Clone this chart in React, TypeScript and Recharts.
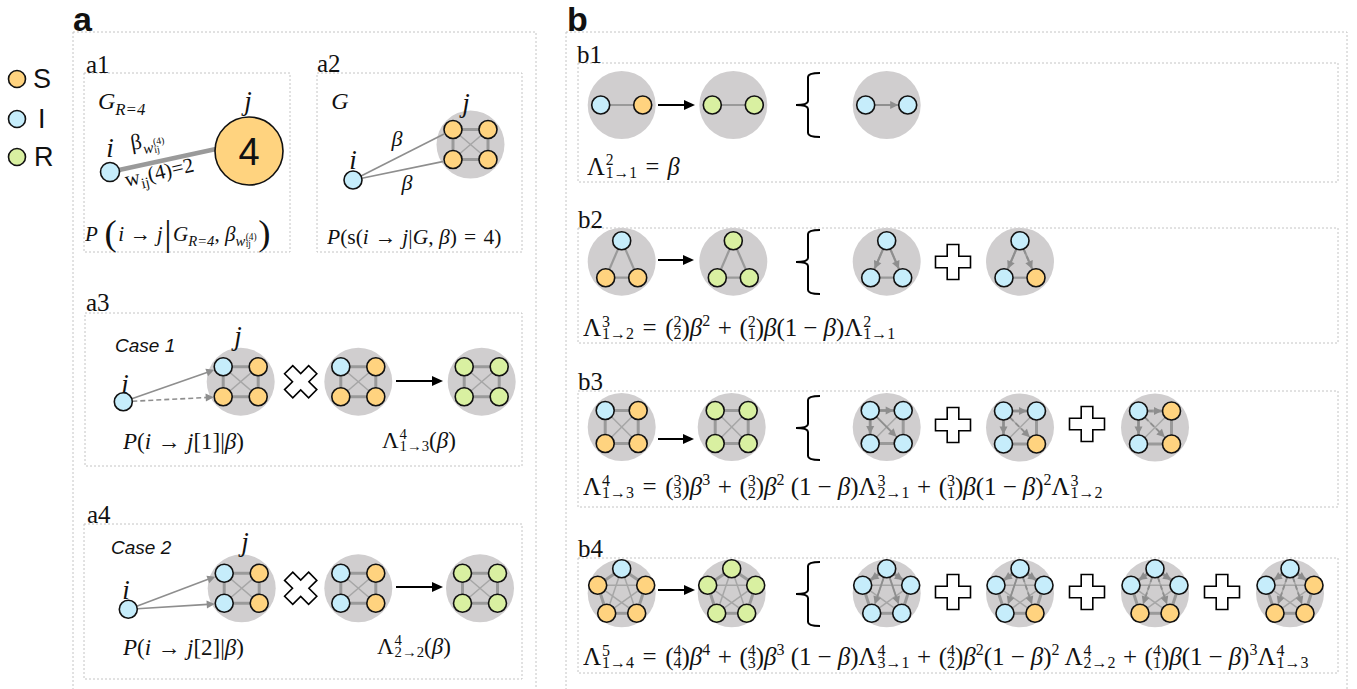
import React from 'react';
import { ScatterChart, Scatter, XAxis, YAxis } from 'recharts';

const W = 1357;
const H = 689;

const SERIF = '"Liberation Serif", "DejaVu Serif", serif';
const SANS = '"Liberation Sans", Arial, sans-serif';

const STATE_FILL: Record<string, string> = { S: '#ffd37f', I: '#c6edfb', R: '#d9f0a1' };
const DISC = '#d0cecf';
const NODE_R = 9;
const DISC_R = 34;

// ---------- data ----------
const legendItems = [
  { x: 17, y: 79, state: 'S', r: 8.5 },
  { x: 17, y: 119, state: 'I', r: 8.5 },
  { x: 17, y: 157, state: 'R', r: 8.5 },
];

const outerBoxes = [
  { x: 73, y: 32, x2: 536, y2: 700 },
  { x: 566, y: 32, x2: 1347, y2: 700 },
];

const panelBoxes = [
  { x: 84, y: 73, x2: 290, y2: 252 },
  { x: 317, y: 73, x2: 522, y2: 252 },
  { x: 85, y: 313, x2: 522, y2: 466 },
  { x: 84, y: 524, x2: 522, y2: 679 },
  { x: 578, y: 63, x2: 1338, y2: 182 },
  { x: 578, y: 228, x2: 1338, y2: 343 },
  { x: 578, y: 391, x2: 1338, y2: 507 },
  { x: 578, y: 558, x2: 1338, y2: 673 },
];

type Arrow = [number, number, boolean];
type Group = { id: string; x: number; y: number; kind: string; states: string; arrows?: Arrow[] };

const groups: Group[] = [
  { id: 'a2', x: 470.5, y: 144.5, kind: 'k4a', states: 'SSSS' },
  { id: 'a3g1', x: 240.7, y: 381.7, kind: 'k4a', states: 'ISSS' },
  { id: 'a3g2', x: 358.3, y: 381.7, kind: 'k4a', states: 'ISSS' },
  { id: 'a3g3', x: 481.7, y: 381.7, kind: 'k4a', states: 'RRRR' },
  { id: 'a4g1', x: 241.7, y: 588.3, kind: 'k4a', states: 'ISIS' },
  { id: 'a4g2', x: 358.3, y: 588.3, kind: 'k4a', states: 'ISIS' },
  { id: 'a4g3', x: 480, y: 588.3, kind: 'k4a', states: 'RRRR' },
  { id: 'b1g1', x: 621.7, y: 105, kind: 'pair', states: 'IS' },
  { id: 'b1g2', x: 733.3, y: 105, kind: 'pair', states: 'RR' },
  { id: 'b1g3', x: 886.7, y: 105, kind: 'pair', states: 'II', arrows: [[0, 1, false]] },
  { id: 'b2g1', x: 621.7, y: 261.7, kind: 'tri', states: 'ISS' },
  { id: 'b2g2', x: 733.3, y: 261.7, kind: 'tri', states: 'RRR' },
  { id: 'b2g3', x: 886.7, y: 261.7, kind: 'tri', states: 'III', arrows: [[0, 1, false], [0, 2, false]] },
  { id: 'b2g4', x: 1020, y: 261.7, kind: 'tri', states: 'IIS', arrows: [[0, 1, false], [0, 2, true]] },
  { id: 'b3g1', x: 621.7, y: 427, kind: 'k4b', states: 'ISSS' },
  { id: 'b3g2', x: 731.7, y: 427, kind: 'k4b', states: 'RRRR' },
  { id: 'b3g3', x: 886.7, y: 427, kind: 'k4b', states: 'IIII', arrows: [[0, 1, false], [0, 2, false], [0, 3, false]] },
  { id: 'b3g4', x: 1020, y: 427.5, kind: 'k4b', states: 'IIIS', arrows: [[0, 1, false], [0, 2, false], [0, 3, true]] },
  { id: 'b3g5', x: 1155, y: 427.5, kind: 'k4b', states: 'ISIS', arrows: [[0, 1, true], [0, 2, false], [0, 3, true]] },
  { id: 'b4g1', x: 621.7, y: 593.3, kind: 'pent', states: 'ISSSS' },
  { id: 'b4g2', x: 731.7, y: 593.3, kind: 'pent', states: 'RRRRR' },
  { id: 'b4g3', x: 886.7, y: 593.3, kind: 'pent', states: 'IIIII', arrows: [[0, 1, false], [0, 2, false], [0, 3, false], [0, 4, false]] },
  { id: 'b4g4', x: 1020, y: 593.3, kind: 'pent', states: 'IIIIS', arrows: [[0, 1, false], [0, 2, false], [0, 3, false], [0, 4, true]] },
  { id: 'b4g5', x: 1155, y: 593.3, kind: 'pent', states: 'IIISS', arrows: [[0, 1, false], [0, 2, false], [0, 3, true], [0, 4, true]] },
  { id: 'b4g6', x: 1290, y: 593.3, kind: 'pent', states: 'IISSS', arrows: [[0, 1, false], [0, 2, true], [0, 3, true], [0, 4, true]] },
];

const templates: Record<string, number[][]> = {
  pair: [[-21, 0], [21, 0]],
  tri: [[0, -21], [-16, 16], [16, 16]],
  k4a: [[-17.5, -15], [17.5, -15], [-17.5, 15], [17.5, 15]],
  k4b: [[-16.5, -16.5], [16.5, -16.5], [-16.5, 16.5], [16.5, 16.5]],
  pent: [[0, -24.5], [-24, -8], [24, -8], [-15, 20], [15, 20]],
};
const thickEdges: Record<string, number[][]> = {
  pair: [[0, 1]],
  tri: [[0, 1], [0, 2], [1, 2]],
  k4a: [[0, 1], [1, 3], [3, 2], [2, 0]],
  k4b: [[0, 1], [1, 3], [3, 2], [2, 0]],
  pent: [[0, 2], [2, 4], [4, 3], [3, 1], [1, 0]],
};
const thinEdges: Record<string, number[][]> = {
  pair: [],
  tri: [],
  k4a: [[0, 3], [1, 2]],
  k4b: [[0, 3], [1, 2]],
  pent: [[0, 3], [0, 4], [1, 2], [1, 4], [2, 3]],
};

const singleNodes = [
  { x: 110, y: 172, state: 'I', r: 9.5 },
  { x: 353, y: 180, state: 'I', r: 9 },
  { x: 123.3, y: 401.7, state: 'I', r: 9 },
  { x: 128.3, y: 609.3, state: 'I', r: 9 },
  { x: 249, y: 151, state: 'S', r: 34 },
];

// links from single node i to group j
const linkSpecs = [
  { x: 110, y: 172, group: '', node: -1, tx: 216, ty: 149, dashed: false, head: false, thick: true },
  { x: 353, y: 180, group: 'a2', node: 0, tx: 0, ty: 0, dashed: false, head: false, thick: false },
  { x: 353, y: 180, group: 'a2', node: 2, tx: 0, ty: 0, dashed: false, head: false, thick: false },
  { x: 123.3, y: 401.7, group: 'a3g1', node: 0, tx: 0, ty: 0, dashed: false, head: true, thick: false },
  { x: 123.3, y: 401.7, group: 'a3g1', node: 2, tx: 0, ty: 0, dashed: true, head: true, thick: false },
  { x: 128.3, y: 609.3, group: 'a4g1', node: 0, tx: 0, ty: 0, dashed: false, head: true, thick: false },
  { x: 128.3, y: 609.3, group: 'a4g1', node: 2, tx: 0, ty: 0, dashed: false, head: true, thick: false },
];

const transitions = [
  { x: 396, y: 381, x2: 443 },
  { x: 396, y: 587, x2: 443 },
  { x: 658, y: 105, x2: 695 },
  { x: 658, y: 260, x2: 694 },
  { x: 658, y: 439, x2: 694 },
  { x: 658, y: 590, x2: 695 },
];

const operators = [
  { x: 300.7, y: 381.7, kind: 'x' },
  { x: 300.7, y: 588.3, kind: 'x' },
  { x: 953, y: 262, kind: '+' },
  { x: 953, y: 425, kind: '+' },
  { x: 1087, y: 424, kind: '+' },
  { x: 953, y: 592, kind: '+' },
  { x: 1087, y: 592, kind: '+' },
  { x: 1222, y: 592, kind: '+' },
];

const braces = [
  { x: 808, y: 105 },
  { x: 808, y: 262 },
  { x: 808, y: 428 },
  { x: 808, y: 594 },
];

const labelTexts = [
  { x: 73, y: 31, text: 'a', kind: 'head' },
  { x: 567, y: 31, text: 'b', kind: 'head' },
  { x: 86, y: 73, text: 'a1', kind: 'panel' },
  { x: 317, y: 72, text: 'a2', kind: 'panel' },
  { x: 86, y: 311, text: 'a3', kind: 'panel' },
  { x: 87, y: 523, text: 'a4', kind: 'panel' },
  { x: 577, y: 63, text: 'b1', kind: 'panel' },
  { x: 578, y: 228, text: 'b2', kind: 'panel' },
  { x: 578, y: 390, text: 'b3', kind: 'panel' },
  { x: 578, y: 557, text: 'b4', kind: 'panel' },
  { x: 33, y: 79, text: 'S', kind: 'legend' },
  { x: 38, y: 119, text: 'I', kind: 'legend' },
  { x: 34, y: 157, text: 'R', kind: 'legend' },
  { x: 248, y: 101, text: 'j', kind: 'var' },
  { x: 110, y: 148, text: 'i', kind: 'var' },
  { x: 249, y: 152, text: '4', kind: 'four' },
  { x: 340, y: 101, text: 'G', kind: 'varG' },
  { x: 466, y: 103, text: 'j', kind: 'var' },
  { x: 353, y: 160, text: 'i', kind: 'var' },
  { x: 397, y: 138, text: 'β', kind: 'beta' },
  { x: 407, y: 182, text: 'β', kind: 'beta' },
  { x: 115, y: 345, text: 'Case 1', kind: 'case' },
  { x: 238, y: 336, text: 'j', kind: 'var' },
  { x: 125, y: 384, text: 'i', kind: 'var' },
  { x: 111, y: 547, text: 'Case 2', kind: 'case' },
  { x: 245, y: 542, text: 'j', kind: 'var' },
  { x: 126, y: 590, text: 'i', kind: 'var' },
];

type Tok =
  | string
  | { i: string }
  | { op: string }
  | { sup: Tok[] }
  | { sub: Tok[] }
  | { ss: [string, string] }
  | { bin: [string, string] }
  | { big: string };

const B: Tok = { i: 'β' };
const EQ: Tok = { op: '=' };
const PLUS: Tok = { op: '+' };
const MINUS: Tok = { op: '−' };
const TO: Tok = { op: '→' };

const formulas: { x: number; y: number; size: number; rot?: number; toks: Tok[] }[] = [
  { x: 98, y: 101, size: 24, toks: [{ i: 'G' }, { sub: [{ i: 'R=4' }] }] },
  { x: 131, y: 145, size: 22, rot: -10, toks: ['β', { sub: [{ i: 'w' }, { ss: ['(4)', 'ij'] }] }] },
  { x: 125, y: 180, size: 21, rot: -13, toks: ['w', { sub: ['ij'] }, '(4)=2'] },
  {
    x: 85, y: 236, size: 21,
    toks: [{ i: 'P' }, ' ', { big: '(' }, { i: 'i' }, TO, { i: 'j' }, { big: '|' }, { i: 'G' }, { sub: [{ i: 'R=4' }] }, ', ', B, { sub: [{ i: 'w' }, { ss: ['(4)', 'ij'] }] }, { big: ')' }],
  },
  { x: 327, y: 238, size: 21.5, toks: [{ i: 'P' }, '(s(', { i: 'i' }, TO, { i: 'j' }, '|', { i: 'G' }, ', ', B, ')', EQ, '4)'] },
  { x: 123, y: 441, size: 23, toks: [{ i: 'P' }, '(', { i: 'i' }, TO, { i: 'j' }, '[1]|', B, ')'] },
  { x: 382, y: 441, size: 23, toks: ['Λ', { ss: ['4', '1→3'] }, '(', B, ')'] },
  { x: 123, y: 647, size: 23, toks: [{ i: 'P' }, '(', { i: 'i' }, TO, { i: 'j' }, '[2]|', B, ')'] },
  { x: 377, y: 647, size: 23, toks: ['Λ', { ss: ['4', '2→2'] }, '(', B, ')'] },
  { x: 587, y: 167, size: 24.5, toks: ['Λ', { ss: ['2', '1→1'] }, EQ, B] },
  {
    x: 583, y: 328, size: 25,
    toks: ['Λ', { ss: ['3', '1→2'] }, EQ, { bin: ['2', '2'] }, B, { sup: ['2'] }, PLUS, { bin: ['2', '1'] }, B, '(1', MINUS, B, ')Λ', { ss: ['2', '1→1'] }],
  },
  {
    x: 583, y: 487, size: 25,
    toks: ['Λ', { ss: ['4', '1→3'] }, EQ, { bin: ['3', '3'] }, B, { sup: ['3'] }, PLUS, { bin: ['3', '2'] }, B, { sup: ['2'] }, ' (1', MINUS, B, ')Λ', { ss: ['3', '2→1'] }, PLUS, { bin: ['3', '1'] }, B, '(1', MINUS, B, ')', { sup: ['2'] }, 'Λ', { ss: ['3', '1→2'] }],
  },
  {
    x: 583, y: 657, size: 25,
    toks: ['Λ', { ss: ['5', '1→4'] }, EQ, { bin: ['4', '4'] }, B, { sup: ['4'] }, PLUS, { bin: ['4', '3'] }, B, { sup: ['3'] }, ' (1', MINUS, B, ')Λ', { ss: ['4', '3→1'] }, PLUS, { bin: ['4', '2'] }, B, { sup: ['2'] }, '(1', MINUS, B, ')', { sup: ['2'] }, ' Λ', { ss: ['4', '2→2'] }, PLUS, { bin: ['4', '1'] }, B, '(1', MINUS, B, ')', { sup: ['3'] }, 'Λ', { ss: ['4', '1→3'] }],
  },
];

// ---------- derived ----------
const groupById: Record<string, Group> = {};
groups.forEach((g) => (groupById[g.id] = g));

const links = linkSpecs.map((l) => {
  if (l.node < 0) return l;
  const g = groupById[l.group];
  const o = templates[g.kind][l.node];
  return { ...l, tx: g.x + o[0], ty: g.y + o[1] };
});

// ---------- drawing helpers ----------
function head(x2: number, y2: number, ux: number, uy: number, len: number, hw: number, fill: string, key?: string) {
  const bx = x2 - ux * len;
  const by = y2 - uy * len;
  const px = -uy;
  const py = ux;
  const pts = `${x2},${y2} ${bx + px * hw},${by + py * hw} ${bx - px * hw},${by - py * hw}`;
  return <polygon key={key} points={pts} fill={fill} />;
}

function GrayArrow(props: { x1: number; y1: number; x2: number; y2: number; dashed: boolean; trimStart: number; trimEnd: number; showHead: boolean; width?: number; color?: string }) {
  const { x1, y1, x2, y2, dashed, trimStart, trimEnd, showHead } = props;
  const color = props.color || '#8e8e8e';
  const dx = x2 - x1;
  const dy = y2 - y1;
  const d = Math.sqrt(dx * dx + dy * dy);
  const ux = dx / d;
  const uy = dy / d;
  const sx = x1 + ux * trimStart;
  const sy = y1 + uy * trimStart;
  const ex = x2 - ux * trimEnd;
  const ey = y2 - uy * trimEnd;
  const hl = 8;
  const lx = showHead ? ex - ux * (hl - 1) : ex;
  const ly = showHead ? ey - uy * (hl - 1) : ey;
  return (
    <g>
      <line x1={sx} y1={sy} x2={lx} y2={ly} stroke={color} strokeWidth={props.width || 1.8} strokeDasharray={dashed ? '5 3' : undefined} />
      {showHead ? head(ex, ey, ux, uy, hl, 4, color) : null}
    </g>
  );
}

function plusPoints(cx: number, cy: number, L: number, a: number, rot: number) {
  const raw = [[-a, -L], [a, -L], [a, -a], [L, -a], [L, a], [a, a], [a, L], [-a, L], [-a, a], [-L, a], [-L, -a], [-a, -a]];
  const c = Math.cos(rot);
  const s = Math.sin(rot);
  return raw.map(([x, y]) => `${cx + x * c - y * s},${cy + x * s + y * c}`).join(' ');
}

const OP_MARGIN: Record<string, string> = { '=': '0 0.34em', '+': '0 0.3em', '−': '0 0.24em', '→': '0 0.28em' };

function renderTok(t: Tok, n: number): React.ReactNode {
  if (typeof t === 'string') return <span key={n}>{t}</span>;
  if ('i' in t) return <span key={n} style={{ fontStyle: 'italic' }}>{t.i}</span>;
  if ('op' in t) return <span key={n} style={{ margin: OP_MARGIN[t.op] }}>{t.op}</span>;
  if ('sup' in t)
    return (
      <span key={n} style={{ fontSize: '0.64em', verticalAlign: '0.62em', lineHeight: 0 }}>
        {t.sup.map(renderTok)}
      </span>
    );
  if ('sub' in t)
    return (
      <span key={n} style={{ fontSize: '0.7em', verticalAlign: '-0.35em', lineHeight: 0 }}>
        {t.sub.map(renderTok)}
      </span>
    );
  if ('ss' in t)
    return (
      <span key={n} style={{ display: 'inline-block', whiteSpace: 'pre', textAlign: 'left', fontSize: '0.64em', lineHeight: 0.78, verticalAlign: '-0.16em', marginLeft: '0.06em' }}>
        {t.ss[0] + '\n' + t.ss[1]}
      </span>
    );
  if ('bin' in t)
    return (
      <span key={n}>
        (
        <span style={{ display: 'inline-block', whiteSpace: 'pre', textAlign: 'center', fontSize: '0.64em', lineHeight: 0.78, verticalAlign: '-0.16em' }}>
          {t.bin[0] + '\n' + t.bin[1]}
        </span>
        )
      </span>
    );
  if ('big' in t)
    return (
      <span key={n} style={{ fontSize: '1.75em', lineHeight: 0, verticalAlign: '-0.12em', margin: '0 0.04em' }}>
        {t.big}
      </span>
    );
  return null;
}

// ---------- shapes ----------
const BoxShape = (p: any) => {
  const { cx, cy, payload } = p;
  return <rect x={cx} y={cy} width={payload.x2 - payload.x} height={payload.y2 - payload.y} fill="none" stroke="#c4c4c4" strokeWidth={1} strokeDasharray="2 2" />;
};

const GroupShape = (p: any) => {
  const { cx, cy, payload } = p;
  const g = payload as Group;
  const pts = templates[g.kind].map((o) => [cx + o[0], cy + o[1]]);
  return (
    <g>
      <circle cx={cx} cy={cy} r={DISC_R} fill={DISC} />
      {thinEdges[g.kind].map(([a, b], n) => (
        <line key={'t' + n} x1={pts[a][0]} y1={pts[a][1]} x2={pts[b][0]} y2={pts[b][1]} stroke="#a6a6a6" strokeWidth={1.5} />
      ))}
      {thickEdges[g.kind].map(([a, b], n) => (
        <line key={'k' + n} x1={pts[a][0]} y1={pts[a][1]} x2={pts[b][0]} y2={pts[b][1]} stroke="#9a9a9a" strokeWidth={g.kind === 'pair' || g.kind === 'tri' ? 2.2 : 3} />
      ))}
      {(g.arrows || []).map(([a, b, d], n) => (
        <GrayArrow key={'a' + n} x1={pts[a][0]} y1={pts[a][1]} x2={pts[b][0]} y2={pts[b][1]} dashed={d} trimStart={NODE_R} trimEnd={NODE_R + 0.5} showHead={true} />
      ))}
      {pts.map((q, n) => (
        <circle key={'n' + n} cx={q[0]} cy={q[1]} r={NODE_R} fill={STATE_FILL[g.states[n]]} stroke="#111" strokeWidth={1.6} />
      ))}
    </g>
  );
};

const NodeShape = (p: any) => {
  const { cx, cy, payload } = p;
  return <circle cx={cx} cy={cy} r={payload.r ?? NODE_R} fill={STATE_FILL[payload.state]} stroke="#111" strokeWidth={1.6} />;
};

const LinkShape = (p: any) => {
  const { cx, cy, payload } = p;
  const ex = cx + (payload.tx - payload.x);
  const ey = cy + (payload.ty - payload.y);
  return (
    <GrayArrow
      x1={cx}
      y1={cy}
      x2={ex}
      y2={ey}
      dashed={payload.dashed}
      trimStart={payload.thick ? 8 : 9}
      trimEnd={payload.thick ? 0 : NODE_R + 0.5}
      showHead={payload.head}
      width={payload.thick ? 4.5 : 1.6}
      color={payload.thick ? '#9a9a9a' : '#8e8e8e'}
    />
  );
};

const TransitionShape = (p: any) => {
  const { cx, cy, payload } = p;
  const ex = cx + (payload.x2 - payload.x);
  return (
    <g>
      <line x1={cx} y1={cy} x2={ex - 9} y2={cy} stroke="#000" strokeWidth={2} />
      {head(ex, cy, 1, 0, 11, 5, '#000')}
    </g>
  );
};

const OperatorShape = (p: any) => {
  const { cx, cy, payload } = p;
  const isX = payload.kind === 'x';
  return (
    <polygon
      points={isX ? plusPoints(cx, cy, 17, 5.8, Math.PI / 4) : plusPoints(cx, cy, 17.5, 5.8, 0)}
      fill="#fff"
      stroke="#000"
      strokeWidth={1.6}
      strokeLinejoin="miter"
    />
  );
};

const BraceShape = (p: any) => {
  const { cx, cy } = p;
  const d = `M ${cx + 12} ${cy - 32} Q ${cx} ${cy - 32} ${cx} ${cy - 28} L ${cx} ${cy - 4} Q ${cx} ${cy} ${cx - 12} ${cy} Q ${cx} ${cy} ${cx} ${cy + 4} L ${cx} ${cy + 28} Q ${cx} ${cy + 32} ${cx + 12} ${cy + 32}`;
  return <path d={d} fill="none" stroke="#000" strokeWidth={2} />;
};

const textStyles: Record<string, any> = {
  head: { fontFamily: SANS, fontWeight: 700, fontSize: 34, textAnchor: 'start', dominantBaseline: 'alphabetic' },
  panel: { fontFamily: SERIF, fontSize: 25, textAnchor: 'start', dominantBaseline: 'alphabetic' },
  legend: { fontFamily: SANS, fontSize: 27, textAnchor: 'start', dominantBaseline: 'central' },
  var: { fontFamily: SERIF, fontStyle: 'italic', fontSize: 27, textAnchor: 'middle', dominantBaseline: 'central' },
  varG: { fontFamily: SERIF, fontStyle: 'italic', fontSize: 24, textAnchor: 'middle', dominantBaseline: 'central' },
  beta: { fontFamily: SERIF, fontStyle: 'italic', fontSize: 22, textAnchor: 'middle', dominantBaseline: 'central' },
  case: { fontFamily: SANS, fontStyle: 'italic', fontSize: 19, textAnchor: 'start', dominantBaseline: 'central' },
  four: { fontFamily: SANS, fontSize: 38, textAnchor: 'middle', dominantBaseline: 'central' },
};

const TextShape = (p: any) => {
  const { cx, cy, payload } = p;
  const s = textStyles[payload.kind];
  return (
    <text x={cx} y={cy} fill="#111" {...s}>
      {payload.text}
    </text>
  );
};

const FormulaShape = (p: any) => {
  const { cx, cy, payload } = p;
  const h = 60;
  const fo = (
    <foreignObject x={cx} y={cy - h / 2} width={900} height={h}>
      <div
        style={{
          height: h,
          display: 'flex',
          alignItems: 'center',
          whiteSpace: 'nowrap',
          fontFamily: SERIF,
          fontSize: payload.size,
          color: '#111',
          lineHeight: 1,
        }}
      >
        <span>{(payload.toks as Tok[]).map(renderTok)}</span>
      </div>
    </foreignObject>
  );
  return payload.rot ? <g transform={`rotate(${payload.rot} ${cx} ${cy})`}>{fo}</g> : <g>{fo}</g>;
};

export default function App() {
  return (
    <div style={{ position: 'absolute', left: 0, top: 0, width: W, height: H, background: '#fff' }}>
      <ScatterChart width={W} height={H} margin={{ top: 0, right: 0, bottom: 0, left: 0 }}>
        <XAxis type="number" dataKey="x" domain={[0, W]} hide allowDataOverflow />
        <YAxis type="number" dataKey="y" domain={[0, H]} reversed hide allowDataOverflow />
        <Scatter data={outerBoxes} shape={BoxShape} isAnimationActive={false} />
        <Scatter data={panelBoxes} shape={BoxShape} isAnimationActive={false} />
        <Scatter data={groups} shape={GroupShape} isAnimationActive={false} />
        <Scatter data={links} shape={LinkShape} isAnimationActive={false} />
        <Scatter data={singleNodes} shape={NodeShape} isAnimationActive={false} />
        <Scatter data={legendItems} shape={NodeShape} isAnimationActive={false} />
        <Scatter data={transitions} shape={TransitionShape} isAnimationActive={false} />
        <Scatter data={operators} shape={OperatorShape} isAnimationActive={false} />
        <Scatter data={braces} shape={BraceShape} isAnimationActive={false} />
        <Scatter data={labelTexts} shape={TextShape} isAnimationActive={false} />
        <Scatter data={formulas} shape={FormulaShape} isAnimationActive={false} />
      </ScatterChart>
    </div>
  );
}
